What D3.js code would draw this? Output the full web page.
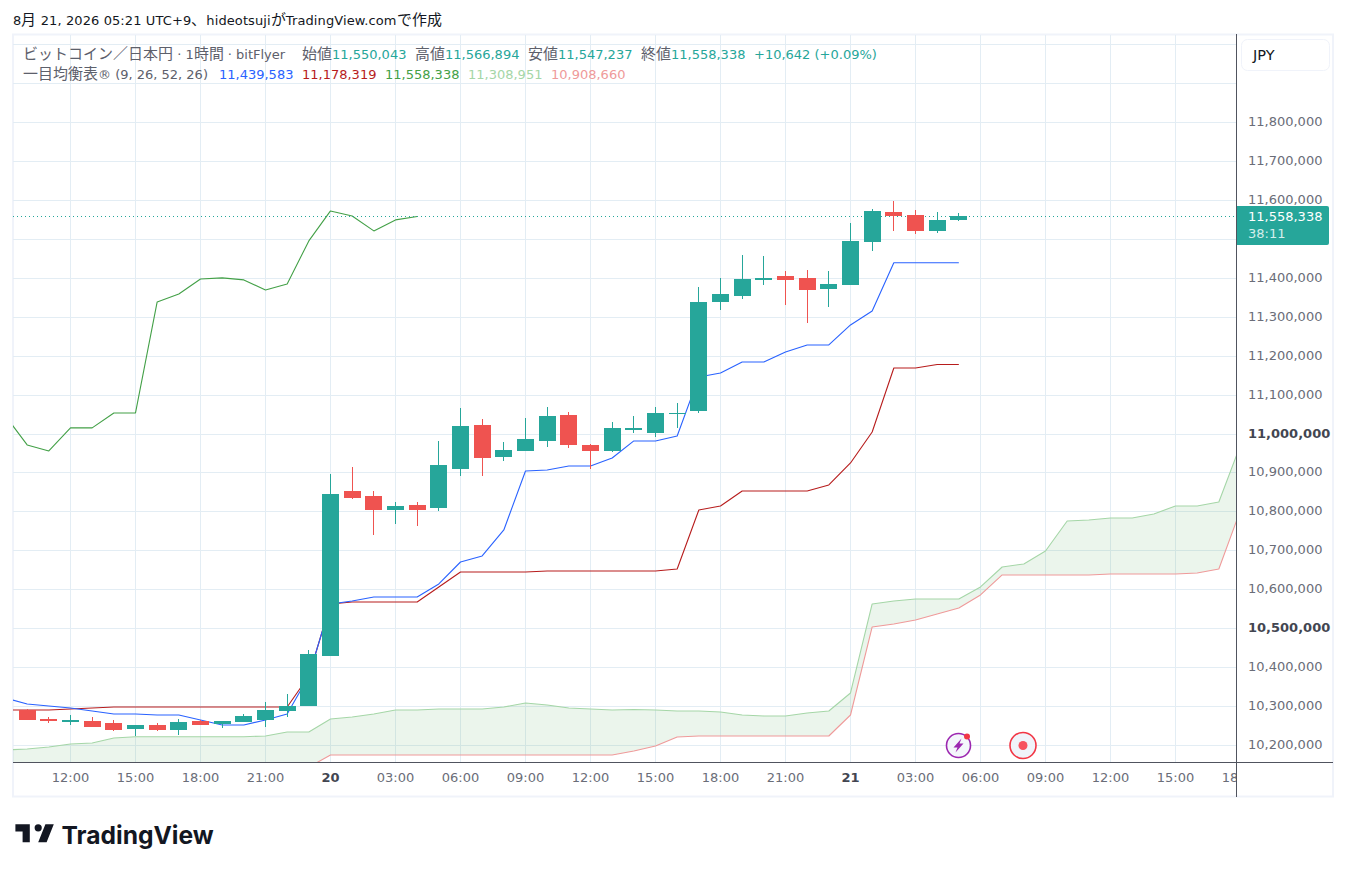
<!DOCTYPE html>
<html>
<head>
<meta charset="utf-8">
<script src="https://cdn.jsdelivr.net/npm/d3@7"></script>
<style>
@font-face { font-family: "JpBig"; src: local("Noto Sans CJK JP"), local("Noto Sans CJK JP Regular"), local("NotoSansCJKjp-Regular"); size-adjust: 115%; unicode-range: U+3000-30FF, U+4E00-9FFF, U+FF00-FFEF; }
html, body { margin: 0; padding: 0; background: #fff; }
svg { display: block; }
text { font-family: "JpBig", "DejaVu Sans", "Noto Sans CJK JP", sans-serif; }
</style>
</head>
<body>
<script>
// ローソク足 (19日 10:00 から 1時間足)
var opens = [10292000,10268500,10260800,10263400,10258300,10242900,10253100,10240300,10263400,10255700,10260800,10266000,10289100,10301900,10430300,10853800,10841000,10805100,10817900,10810200,10910400,11023300,10941100,10956400,10982200,11048900,10971900,10956400,11010500,11002800,11053000,11059200,11339000,11354400,11395500,11405700,11400600,11372300,11382600,11492900,11569900,11562300,11521300,11550043];
var highs = [10294000,10273700,10278800,10273700,10266000,10253500,10258300,10268500,10266000,10264000,10281400,10312200,10332700,10445700,10897500,10915400,10853800,10825600,10825600,10982200,11067000,11038700,10979600,11041200,11069500,11056600,10974500,11031000,11046400,11069500,11079700,11377500,11400600,11459700,11457100,11418500,11421100,11418500,11541700,11577600,11597900,11575000,11569900,11566894];
var lows = [10266000,10258300,10253100,10247000,10237700,10224900,10237700,10227500,10252500,10245400,10260000,10248000,10273700,10301000,10430000,10833300,10740900,10769100,10764000,10802500,10892300,10892300,10930800,10956000,10966800,10964200,10910400,10953900,11002800,10992500,11015600,11054000,11318400,11346700,11382600,11331000,11284900,11326100,11382000,11470000,11521300,11513600,11516200,11547237];
var closes = [10266000,10263400,10266000,10248000,10240300,10253100,10240300,10260800,10253100,10263400,10276200,10291600,10301900,10435400,10846100,10835800,10805100,10815300,10805100,10920600,11020800,10938500,10959000,10987200,11046400,10971900,10956400,11015600,11015600,11054000,11054000,11339000,11359500,11398000,11400600,11395500,11369800,11385200,11495500,11572500,11559700,11521300,11549500,11558338];

// 一目均衡表 (どれも index -1 の足から)
var tenkan = [10322400,10307000,10301900,10296800,10289100,10281400,10281400,10278800,10278800,10266000,10253100,10253100,10266000,10281400,10378900,10563700,10571400,10581700,10581700,10581700,10615100,10671500,10687000,10753700,10905200,10907700,10918000,10918000,10938500,10982200,10982200,10995000,11146500,11156700,11184900,11184900,11210600,11228600,11228600,11279900,11315900,11439583,11439583,11439583,11439583];
var kijun = [10291600,10291600,10291600,10294200,10296800,10299300,10299300,10299300,10299300,10299300,10299300,10299300,10299300,10299300,10378900,10563700,10568900,10568900,10568900,10568900,10607400,10645900,10645900,10645900,10645900,10648500,10648500,10648500,10648500,10648500,10648500,10653600,10805100,10815300,10853800,10853800,10853800,10853800,10869200,10925700,11005200,11169500,11169500,11178319,11178319];
var chikou = [11046400,10971900,10956400,11015600,11015600,11054000,11054000,11339000,11359500,11398000,11400600,11395500,11369800,11385200,11495500,11572500,11559700,11521300,11549500,11558338];
var spanA = [10189000,10191500,10196700,10204400,10206900,10219800,10223100,10223100,10223100,10223100,10223100,10223100,10224900,10235200,10235200,10268500,10273700,10281400,10291600,10291600,10294200,10294200,10294200,10299300,10309600,10304500,10296800,10294200,10291600,10292900,10291600,10289100,10289100,10286500,10278800,10276200,10276200,10283900,10289100,10335300,10563700,10571400,10576600,10576600,10576600,10607400,10658700,10666400,10699800,10776800,10779400,10784500,10784500,10794800,10815300,10815300,10825600,10972000];
var spanB = [10130000,10130000,10130000,10130000,10130000,10130000,10130000,10130000,10130000,10130000,10130000,10130000,10130000,10130000,10145000,10176100,10176100,10176100,10176100,10176100,10176100,10176100,10176100,10176100,10176100,10176100,10176100,10176100,10176100,10186400,10199200,10222300,10224900,10224900,10224900,10224900,10224900,10224900,10224900,10278800,10504700,10512400,10522700,10538100,10553500,10586900,10638200,10638200,10638200,10638200,10638200,10640800,10640800,10640800,10640800,10643300,10653600,10805000];

// 目盛り
var timeTicks = [2,5,8,11,14,17,20,23,26,29,32,35,38,41,44,47,50,53,56];
var timeLabels = ["12:00","15:00","18:00","21:00","20","03:00","06:00","09:00","12:00","15:00","18:00","21:00","21","03:00","06:00","09:00","12:00","15:00","18:00"];
var gridPrices = [10200000,10300000,10400000,10500000,10600000,10700000,10800000,10900000,11000000,11100000,11200000,11300000,11400000,11500000,11600000,11700000,11800000,11900000,12000000];
var labelPrices = [10200000,10300000,10400000,10500000,10600000,10700000,10800000,10900000,11000000,11100000,11200000,11300000,11400000,11600000,11700000,11800000];
var boldPrices = [10500000,11000000];

var lastPrice = 11558338;
var countdown = "38:11";
var header = "8月 21, 2026 05:21 UTC+9、hideotsujiがTradingView.comで作成";

var upColor = "#26a69a";
var downColor = "#ef5350";
var paneLeft = 13, paneRight = 1236, paneTop = 35, paneBottom = 762;
var fontSize = 13;

var svg = d3.select("body").append("svg")
	.attr("width", 1346)
	.attr("height", 872);

var x = d3.scaleLinear().domain([2, 53]).rangeRound([70, 1175]);
var xLine = d3.scaleLinear().domain([2, 53]).range([70.5, 1175.5]);
var y = d3.scaleLinear().domain([10200000, 11800000]).range([745.7, 122.3]);
var yTick = d3.scaleLinear().domain([10200000, 11800000]).rangeRound([745, 122]);

svg.append("text").attr("x", 13).attr("y", 25)
	.attr("font-size", fontSize).attr("letter-spacing", 0.1).attr("fill", "#131722").text(header);

// 枠
svg.append("rect").attr("x", 13).attr("y", 34.5).attr("width", 1320).attr("height", 762)
	.attr("fill", "#fff").attr("stroke", "#f0f3fa").attr("stroke-width", 2);

svg.append("clipPath").attr("id", "pane").append("rect")
	.attr("x", paneLeft).attr("y", paneTop)
	.attr("width", paneRight - paneLeft).attr("height", paneBottom - paneTop);

var pane = svg.append("g").attr("clip-path", "url(#pane)");

// グリッド
var gridX = pane.append("g").attr("class", "grid")
	.attr("transform", "translate(0," + paneBottom + ")")
	.call(d3.axisBottom(x).tickValues(timeTicks).tickSize(-(paneBottom - paneTop)).tickFormat(""));
var gridY = pane.append("g").attr("class", "grid")
	.attr("transform", "translate(" + paneLeft + ",0)")
	.call(d3.axisRight(yTick).tickValues(gridPrices).tickSize(paneRight - paneLeft).tickFormat(""));
pane.selectAll(".grid .domain").remove();
pane.selectAll(".grid line").attr("stroke", "#e3edf4").attr("stroke-width", 1);

// 雲
var idx = d3.range(spanA.length);
pane.append("path").datum(idx)
	.attr("fill", "rgba(67,160,71,0.105)")
	.attr("d", d3.area()
		.x(function (d) { return xLine(d - 1); })
		.y0(function (d) { return y(spanB[d]); })
		.y1(function (d) { return y(spanA[d]); }));

function drawLine(values, color) {
	pane.append("path").datum(values)
		.attr("fill", "none")
		.attr("stroke", color)
		.attr("stroke-width", 1.1)
		.attr("stroke-linejoin", "round")
		.attr("d", d3.line()
			.x(function (d, i) { return xLine(i - 1); })
			.y(function (d) { return y(d); }));
}
drawLine(spanA, "#a5d6a7");
drawLine(spanB, "#ef9a9a");
drawLine(chikou, "#43a047");
drawLine(kijun, "#b71c1c");
drawLine(tenkan, "#2962ff");

// 現在値の点線
pane.append("line")
	.attr("x1", paneLeft).attr("x2", paneRight)
	.attr("y1", Math.floor(y(lastPrice)) + 0.5).attr("y2", Math.floor(y(lastPrice)) + 0.5)
	.attr("stroke", upColor).attr("stroke-width", 1).attr("stroke-dasharray", "1 3");

// ローソク足
var bars = pane.selectAll("g.bar")
	.data(d3.range(opens.length))
	.enter()
	.append("g")
	.attr("class", "bar")
	.attr("fill", function (d) { return closes[d] >= opens[d] ? upColor : downColor; });

bars.append("rect")
	.attr("x", function (d) { return x(d); })
	.attr("width", 1)
	.attr("y", function (d) { return Math.round(y(highs[d])); })
	.attr("height", function (d) { return Math.round(y(lows[d])) - Math.round(y(highs[d])); });

bars.append("rect")
	.attr("x", function (d) { return x(d) - 8; })
	.attr("width", 17)
	.attr("y", function (d) { return Math.round(y(Math.max(opens[d], closes[d]))); })
	.attr("height", function (d) {
		return Math.max(1, Math.round(y(Math.min(opens[d], closes[d]))) - Math.round(y(Math.max(opens[d], closes[d]))));
	});

// 凡例
function legendRow(rowY, items) {
	svg.append("g").selectAll("text")
		.data(items)
		.enter()
		.append("text")
		.attr("x", function (d) { return d[0]; })
		.attr("y", rowY)
		.attr("font-size", fontSize)
		.attr("fill", function (d) { return d[2]; })
		.text(function (d) { return d[1]; });
}
legendRow(59, [
	[23, "ビットコイン／日本円 · 1時間 · bitFlyer", "#5d606b"],
	[302, "始値", "#5d606b"], [332, "11,550,043", upColor],
	[415, "高値", "#5d606b"], [445, "11,566,894", upColor],
	[528, "安値", "#5d606b"], [558, "11,547,237", upColor],
	[641, "終値", "#5d606b"], [671, "11,558,338", upColor],
	[754, "+10,642 (+0.09%)", upColor]
]);
legendRow(79, [
	[23, "一目均衡表® (9, 26, 52, 26)", "#5d606b"],
	[219, "11,439,583", "#2962ff"],
	[302, "11,178,319", "#b71c1c"],
	[385, "11,558,338", "#43a047"],
	[468, "11,308,951", "#a5d6a7"],
	[551, "10,908,660", "#ef9a9a"]
]);

// イベントのマーク
var mark1 = pane.append("g").attr("transform", "translate(958.5,745.5)");
mark1.append("circle").attr("r", 12).attr("fill", "#f4f6fb").attr("stroke", "#9c27b0").attr("stroke-width", 1.6);
mark1.append("path").attr("d", "M3,-7 L-5,2 L-1,2 L-3,7 L5,-2 L1,-2 Z").attr("fill", "#9c27b0");
mark1.append("circle").attr("cx", 8.5).attr("cy", -9).attr("r", 3).attr("fill", "#f23645");
var mark2 = pane.append("g").attr("transform", "translate(1023,745.5)");
mark2.append("circle").attr("r", 13).attr("fill", "#f0f3fa").attr("stroke", "#f23645").attr("stroke-width", 1.6);
mark2.append("circle").attr("r", 4.5).attr("fill", "#f7525f");

// 時間軸
svg.append("clipPath").attr("id", "timeclip").append("rect")
	.attr("x", paneLeft).attr("y", paneBottom).attr("width", paneRight - paneLeft).attr("height", 34);
var axisX = svg.append("g")
	.attr("clip-path", "url(#timeclip)");
var axisXInner = axisX.append("g")
	.attr("transform", "translate(0," + paneBottom + ")")
	.call(d3.axisBottom(x).tickValues(timeTicks).tickSize(0).tickPadding(11)
		.tickFormat(function (d, i) { return timeLabels[i]; }));
axisXInner.select(".domain").remove();
axisXInner.attr("font-family", null);
axisXInner.selectAll("text")
	.attr("font-size", fontSize)
	.attr("font-weight", function (d, i) { return timeLabels[i].length == 2 ? 700 : 400; })
	.attr("fill", function (d, i) { return timeLabels[i].length == 2 ? "#434651" : "#6a6d78"; });

// 価格軸
var axisY = svg.append("g")
	.attr("transform", "translate(" + paneRight + ",0)")
	.call(d3.axisRight(yTick).tickValues(labelPrices).tickSize(0).tickPadding(12)
		.tickFormat(d3.format(",")));
axisY.select(".domain").remove();
axisY.attr("font-family", null);
axisY.selectAll("text")
	.attr("dy", "0.25em")
	.attr("font-size", fontSize)
	.attr("font-weight", function (d) { return boldPrices.indexOf(d) >= 0 ? 700 : 400; })
	.attr("fill", function (d) { return boldPrices.indexOf(d) >= 0 ? "#434651" : "#6a6d78"; });

// 軸の線
svg.append("line").attr("x1", paneLeft).attr("x2", 1333).attr("y1", paneBottom + 0.5).attr("y2", paneBottom + 0.5)
	.attr("stroke", "#50535e");
svg.append("line").attr("x1", paneRight + 0.5).attr("x2", paneRight + 0.5).attr("y1", 34).attr("y2", 797)
	.attr("stroke", "#50535e");

// 現在値タグ
svg.append("path")
	.attr("d", "M1237,206 H1327 a2,2 0 0 1 2,2 V243 a2,2 0 0 1 -2,2 H1237 Z")
	.attr("fill", upColor);
svg.append("text").attr("x", 1248).attr("y", 221).attr("font-size", fontSize).attr("fill", "#fff")
	.text(d3.format(",")(lastPrice));
svg.append("text").attr("x", 1248).attr("y", 238).attr("font-size", fontSize).attr("fill", "#d4eeeb")
	.text(countdown);

// JPY ボタン
svg.append("rect").attr("x", 1241.5).attr("y", 39.5).attr("width", 88).attr("height", 31).attr("rx", 6)
	.attr("fill", "#fff").attr("stroke", "#f0f3fa");
svg.append("text").attr("x", 1253).attr("y", 60).attr("font-size", 14.5).attr("fill", "#131722").text("JPY");

// ロゴ
svg.append("path")
	.attr("transform", "translate(13,817) scale(1.2)")
	.attr("d", "M14 6H2v6h6v9h6V6Zm14 15h-7l6-15h7l-6 15Zm-7-9a3 3 0 1 0 0-6 3 3 0 0 0 0 6Z")
	.attr("fill", "#131722");
svg.append("text").attr("x", 61.5).attr("y", 844)
	.style("font-family", "Inter").attr("font-size", 24.6).attr("font-weight", 700).attr("fill", "#131722")
	.text("TradingView");
</script>
</body>
</html>
